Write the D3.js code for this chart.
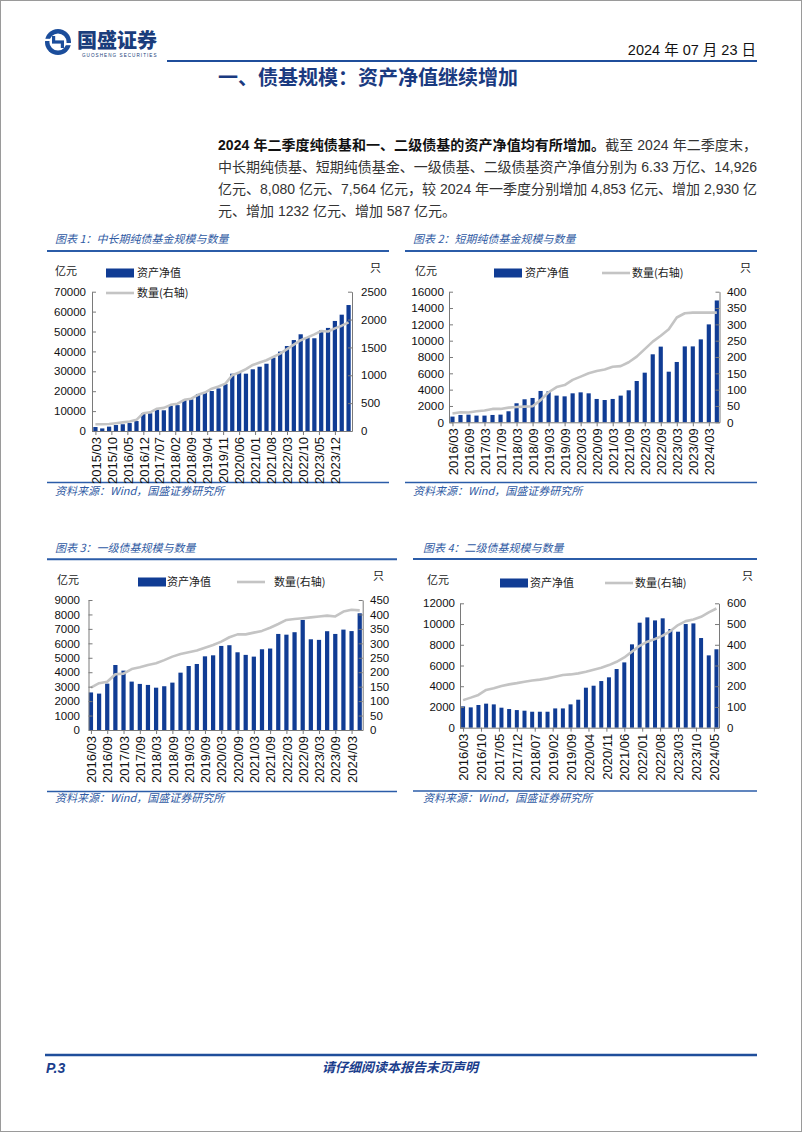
<!DOCTYPE html>
<html><head><meta charset="utf-8">
<script src="https://cdn.jsdelivr.net/npm/d3@7"></script>
<style>body{margin:0;background:#fff;} svg{display:block;}</style>
</head><body><svg id="page" width="802" height="1132"></svg>
<script>
// ---------- DATA ----------
const quarters1 = ["2015/03","2015/06","2015/09","2015/12","2016/03","2016/06","2016/09","2016/12","2017/03","2017/06","2017/09","2017/12","2018/03","2018/06","2018/09","2018/12","2019/03","2019/06","2019/09","2019/12","2020/03","2020/06","2020/09","2020/12","2021/03","2021/06","2021/09","2021/12","2022/03","2022/06","2022/09","2022/12","2023/03","2023/06","2023/09","2023/12","2024/03","2024/06"];
const quarters2 = ["2016/03","2016/06","2016/09","2016/12","2017/03","2017/06","2017/09","2017/12","2018/03","2018/06","2018/09","2018/12","2019/03","2019/06","2019/09","2019/12","2020/03","2020/06","2020/09","2020/12","2021/03","2021/06","2021/09","2021/12","2022/03","2022/06","2022/09","2022/12","2023/03","2023/06","2023/09","2023/12","2024/03","2024/06"];

// 图表1 中长期纯债基金
const c1Nav   = [2000,1300,2200,3000,3400,4000,5000,9000,8900,10700,10400,12700,13000,15600,15900,18600,19300,20100,21400,23600,28800,29300,28800,31000,32300,33800,36900,39900,42700,45700,48600,47100,46600,50600,51800,55300,58450,63300];
const c1Count = [120,122,125,140,155,170,200,320,335,400,415,470,490,560,580,650,690,760,800,850,1000,1050,1110,1185,1230,1270,1330,1390,1470,1550,1630,1680,1735,1795,1785,1842,1890,1950];
// 图表2 短期纯债基金
const c2Nav   = [700,900,940,820,820,900,940,1350,2330,2820,2980,3840,3800,3270,3180,3550,3670,3550,2860,2730,2860,3270,3920,5060,6080,8330,9270,6200,7390,9300,9300,10160,11996,14926];
const c2Count = [27,31,30,34,36,41,41,45,47,48,49,68,92,108,114,130,140,150,157,162,170,172,184,201,224,247,265,285,321,334,336,336,336,336];
// 图表3 一级债基
const c3Nav   = [2600,2520,3210,4500,4110,3350,3190,3120,2930,3030,3280,3970,4430,4570,5100,5170,5820,5870,5380,5200,5080,5590,5640,6650,6600,6770,7620,6280,6240,6840,6650,6950,6848,8080];
const c3Count = [147,162,167,193,195,211,217,225,231,242,254,263,269,275,285,294,306,321,331,331,337,343,354,367,381,384,387,390,393,396,393,410,416,414];
// 图表4 二级债基
const c4Nav   = [2060,1960,2190,2320,2250,1930,1800,1700,1640,1540,1540,1540,1860,1860,2250,2700,3860,4050,4500,4860,5660,6300,8040,10130,10640,10350,10550,9520,9260,10000,10060,8650,6977,7564];
const c4Count = [133,145,158,182,190,201,209,215,222,228,232,238,246,254,257,262,270,280,289,302,318,339,367,395,415,428,444,466,495,514,522,535,556,575];

// tick labels
const c1XTicks = ["2015/03","2015/10","2016/05","2016/12","2017/07","2018/02","2018/09","2019/04","2019/11","2020/06","2021/01","2021/08","2022/03","2022/10","2023/05","2023/12"];
const c2XTicks = ["2016/03","2016/09","2017/03","2017/09","2018/03","2018/09","2019/03","2019/09","2020/03","2020/09","2021/03","2021/09","2022/03","2022/09","2023/03","2023/09","2024/03"];
const c3XTicks = ["2016/03","2016/09","2017/03","2017/09","2018/03","2018/09","2019/03","2019/09","2020/03","2020/09","2021/03","2021/09","2022/03","2022/09","2023/03","2023/09","2024/03"];
const c4XTicks = ["2016/03","2016/10","2017/05","2017/12","2018/07","2019/02","2019/09","2020/04","2020/11","2021/06","2022/01","2022/08","2023/03","2023/10","2024/05"];
const c1LTicks = [0,10000,20000,30000,40000,50000,60000,70000];
const c1RTicks = [0,500,1000,1500,2000,2500];
const c2LTicks = [0,2000,4000,6000,8000,10000,12000,14000,16000];
const c2RTicks = [0,50,100,150,200,250,300,350,400];
const c3LTicks = [0,1000,2000,3000,4000,5000,6000,7000,8000,9000];
const c3RTicks = [0,50,100,150,200,250,300,350,400,450];
const c4LTicks = [0,2000,4000,6000,8000,10000,12000];
const c4RTicks = [0,100,200,300,400,500,600];

const chartTitles = ["图表 1：中长期纯债基金规模与数量","图表 2：短期纯债基金规模与数量","图表 3：一级债基规模与数量","图表 4：二级债基规模与数量"];
const legendNames = ["资产净值","数量(右轴)"];
const sourceText = "资料来源：Wind，国盛证券研究所";

// ---------- STYLE ----------
const FONT = '"Liberation Sans","Noto Sans CJK SC",sans-serif';
const CJK = '"Noto Sans CJK SC","Liberation Sans",sans-serif';
const BAR = '#103c94';
const LINE = '#c4c4c4';
const RULE = '#2b5ca8';
const TITLEBLUE = '#2f5aa3';
const AXIS = '#7a7a7a';

const svg = d3.select('#page');
svg.append('rect').attr('x',0.5).attr('y',0.5).attr('width',801).attr('height',1131)
  .attr('fill','#fff').attr('stroke','#9a9a9a');

// ---------- HEADER ----------
const lg = svg.append('g').attr('transform','translate(58,42)');
lg.append('circle').attr('r',13).attr('fill','#1b4d9b');
lg.append('circle').attr('r',8.6).attr('fill','#fff');
lg.append('rect').attr('x',-6).attr('y',-1.6).attr('width',12).attr('height',3.2).attr('fill','#1b4d9b');
lg.append('rect').attr('x',-6).attr('y',-6).attr('width',3.2).attr('height',6).attr('fill','#1b4d9b');
lg.append('rect').attr('x',2.8).attr('y',0).attr('width',3.2).attr('height',6).attr('fill','#1b4d9b');
lg.append('rect').attr('x',-13.5).attr('y',-3.2).attr('width',5.5).attr('height',2.2).attr('fill','#fff');
lg.append('rect').attr('x',8).attr('y',1).attr('width',5.5).attr('height',2.2).attr('fill','#fff');
svg.append('text').attr('x',77).attr('y',48).attr('font-family',CJK).attr('font-size',20)
  .attr('font-weight',900).attr('fill','#1a3d7c').text('国盛证券');
svg.append('text').attr('x',82).attr('y',56.5).attr('font-family',FONT).attr('font-size',4.6)
  .attr('letter-spacing',1.05).attr('fill','#1a3d7c').text('GUOSHENG SECURITIES');
svg.append('text').attr('x',756).attr('y',55).attr('text-anchor','end').attr('font-family',FONT)
  .attr('font-size',14.5).attr('fill','#111').text('2024 年 07 月 23 日');
svg.append('line').attr('x1',167).attr('x2',757).attr('y1',61).attr('y2',61)
  .attr('stroke','#1f4e9b').attr('stroke-width',2);
svg.append('text').attr('x',218).attr('y',85).attr('font-family',CJK).attr('font-size',20)
  .attr('font-weight',700).attr('fill','#1a3a80').text('一、债基规模：资产净值继续增加');

// ---------- PARAGRAPH ----------
const paraLines = [
  [{t:'2024 年二季度纯债基和一、二级债基的资产净值均有所增加。',b:true},{t:'截至 2024 年二季度末，',b:false}],
  [{t:'中长期纯债基、短期纯债基金、一级债基、二级债基资产净值分别为 6.33 万亿、14,926',b:false}],
  [{t:'亿元、8,080 亿元、7,564 亿元，较 2024 年一季度分别增加 4,853 亿元、增加 2,930 亿',b:false}],
  [{t:'元、增加 1232 亿元、增加 587 亿元。',b:false}]
];
const paraY = [150, 172, 194, 215.5];
paraLines.forEach((ln, i) => {
  const t = svg.append('text').attr('x',218).attr('y',paraY[i]).attr('font-family',FONT)
    .attr('font-size',14).attr('fill','#333');
  ln.forEach(s => t.append('tspan').attr('font-weight', s.b ? 700 : 400)
    .attr('fill', s.b ? '#111' : '#333').text(s.t));
  if (i < 3) {
    const len = t.node().getComputedTextLength();
    const n = ln.map(s=>s.t).join('').length;
    t.attr('letter-spacing', (539 - len) / (n - 1));
  }
});

// ---------- CHARTS ----------
function monthIndex(s, start) {
  const [y, m] = s.split('/').map(Number);
  const [y0, m0] = start.split('/').map(Number);
  return (y - y0) * 12 + (m - m0);
}

const charts = [
  {dates:quarters1, nav:c1Nav, count:c1Count, xt:c1XTicks, lt:c1LTicks, rt:c1RTicks,
   xDomain:[-1.5,112.5], xRange:[92,352], y0:431, y1:291.7, lMax:70000, rMax:2500,
   lLab:86, rLab:361, barFrac:0.62, ySize:11.5,
   legend:{two:true, barX:106, textX:137, y:273, y2:293},
   unitL:[55,275], unitR:[370,272], title:[55,243], rule:[47,389,251], src:[47,389,482.5], srcT:[55,494.5]},
  {dates:quarters2, nav:c2Nav, count:c2Count, xt:c2XTicks, lt:c2LTicks, rt:c2RTicks,
   xDomain:[-1.3,100], xRange:[449,719.5], y0:422.3, y1:291.7, lMax:16000, rMax:400,
   lLab:444, rLab:727, barFrac:0.52, ySize:11.8,
   legend:{two:false, barX:494, textX:525, lineX:602, textX2:632, y:273},
   unitL:[415,275], unitR:[740,272], title:[413,243], rule:[405,757,251], src:[405,757,482.5], srcT:[413,494.5]},
  {dates:quarters2, nav:c3Nav, count:c3Count, xt:c3XTicks, lt:c3LTicks, rt:c3RTicks,
   xDomain:[-0.9,100.1], xRange:[88.5,362.7], y0:730, y1:600, lMax:9000, rMax:450,
   lLab:80, rLab:370, barFrac:0.52, ySize:11.5,
   legend:{two:false, barX:138, textX:167, lineX:237, textX2:274, y:582},
   unitL:[57,584], unitR:[373,580], title:[55,551.5], rule:[47,397,559.3], src:[47,397,791.5], srcT:[55,801.5]},
  {dates:quarters2, nav:c4Nav, count:c4Count, xt:c4XTicks, lt:c4LTicks, rt:c4RTicks,
   xDomain:[-1.2,100], xRange:[460,719], y0:727.7, y1:603.3, lMax:12000, rMax:600,
   lLab:455, rLab:727, barFrac:0.52, ySize:11.5,
   legend:{two:false, barX:500, textX:530, lineX:605, textX2:635, y:583},
   unitL:[427,584], unitR:[742,580], title:[423,551.5], rule:[413,757,559], src:[413,757,791], srcT:[423,801.5]}
];

charts.forEach((c, ci) => {
  const g = svg.append('g');
  const start = c.dates[0];
  const mi = s => monthIndex(s, start);
  const x = d3.scaleLinear().domain(c.xDomain).range(c.xRange);
  const yL = d3.scaleLinear().domain([0, c.lMax]).range([c.y0, c.y1]);
  const yR = d3.scaleLinear().domain([0, c.rMax]).range([c.y0, c.y1]);

  // title + rules
  g.append('text').attr('x',c.title[0]).attr('y',c.title[1]).attr('font-family',CJK)
    .attr('font-size',11).attr('font-style','italic').attr('fill',TITLEBLUE).text(chartTitles[ci]);
  g.append('line').attr('x1',c.rule[0]).attr('x2',c.rule[1]).attr('y1',c.rule[2]).attr('y2',c.rule[2])
    .attr('stroke',RULE).attr('stroke-width',2);
  g.append('line').attr('x1',c.src[0]).attr('x2',c.src[1]).attr('y1',c.src[2]).attr('y2',c.src[2])
    .attr('stroke',RULE).attr('stroke-width',1.5);
  g.append('text').attr('x',c.srcT[0]).attr('y',c.srcT[1]).attr('font-family',CJK)
    .attr('font-size',11).attr('font-style','italic').attr('fill',TITLEBLUE).text(sourceText);

  // units
  g.append('text').attr('x',c.unitL[0]).attr('y',c.unitL[1]).attr('font-family',CJK)
    .attr('font-size',11).attr('fill','#222').text('亿元');
  g.append('text').attr('x',c.unitR[0]).attr('y',c.unitR[1]).attr('font-family',CJK)
    .attr('font-size',11).attr('fill','#222').text('只');

  // bars
  const bw = c.barFrac * (x(3) - x(0));
  g.selectAll('rect.bar').data(c.nav).join('rect').attr('class','bar')
    .attr('x', (d,i) => x(mi(c.dates[i])) - bw/2)
    .attr('y', d => yL(d))
    .attr('width', bw)
    .attr('height', d => yL(0) - yL(d))
    .attr('fill', BAR);

  // line
  const line = d3.line().x((d,i) => x(mi(c.dates[i]))).y(d => yR(d));
  g.append('path').attr('d', line(c.count)).attr('fill','none')
    .attr('stroke',LINE).attr('stroke-width',2.6).attr('stroke-linejoin','round');

  // axes
  const axL = g.append('g').attr('transform',`translate(${c.xRange[0]},0)`)
    .call(d3.axisLeft(yL).tickValues(c.lt).tickFormat(d3.format('d'))
      .tickSizeInner(-4).tickSizeOuter(0).tickPadding(c.xRange[0]-c.lLab));
  const axR = g.append('g').attr('transform',`translate(${c.xRange[1]},0)`)
    .call(d3.axisRight(yR).tickValues(c.rt).tickFormat(d3.format('d'))
      .tickSizeInner(-4).tickSizeOuter(0).tickPadding(c.rLab-c.xRange[1]));
  const axB = g.append('g').attr('transform',`translate(0,${c.y0})`)
    .call(d3.axisBottom(x).tickValues(c.xt.map(mi)).tickFormat((d,i)=>c.xt[i])
      .tickSizeInner(4).tickSizeOuter(0));
  axB.selectAll('text').attr('transform','rotate(-90)').attr('text-anchor','end')
    .attr('x',-6).attr('y',0).attr('dy','0.36em').attr('font-size',13);
  [axL, axR].forEach(a => a.selectAll('text').attr('font-size', c.ySize));
  [axL, axR, axB].forEach(a => {
    a.attr('font-family', FONT);
    a.selectAll('text').attr('fill','#111');
    a.selectAll('path.domain, line').attr('stroke', AXIS);
  });

  // legend
  const L = c.legend;
  g.append('rect').attr('x',L.barX).attr('y',L.y-4.5).attr('width',28).attr('height',9).attr('fill',BAR);
  g.append('text').attr('x',L.textX).attr('y',L.y+4).attr('font-family',CJK).attr('font-size',11)
    .attr('fill','#222').text(legendNames[0]);
  if (L.two) {
    g.append('line').attr('x1',L.barX).attr('x2',L.barX+28).attr('y1',L.y2).attr('y2',L.y2)
      .attr('stroke',LINE).attr('stroke-width',2.6);
    g.append('text').attr('x',L.textX).attr('y',L.y2+4).attr('font-family',CJK).attr('font-size',11)
      .attr('fill','#222').text(legendNames[1]);
  } else {
    g.append('line').attr('x1',L.lineX).attr('x2',L.lineX+28).attr('y1',L.y).attr('y2',L.y)
      .attr('stroke',LINE).attr('stroke-width',2.6);
    g.append('text').attr('x',L.textX2).attr('y',L.y+4).attr('font-family',CJK).attr('font-size',11)
      .attr('fill','#222').text(legendNames[1]);
  }
});

// ---------- FOOTER ----------
svg.append('line').attr('x1',45).attr('x2',757).attr('y1',1055).attr('y2',1055)
  .attr('stroke','#1f4e9b').attr('stroke-width',2.5);
svg.append('text').attr('x',46).attr('y',1073).attr('font-family',FONT).attr('font-size',14)
  .attr('font-weight',700).attr('font-style','italic').attr('fill','#1a3d8c').text('P.3');
svg.append('text').attr('x',400).attr('y',1072).attr('text-anchor','middle').attr('font-family',CJK)
  .attr('font-size',13).attr('font-weight',700).attr('font-style','italic').attr('fill','#1a3d8c')
  .text('请仔细阅读本报告末页声明');
</script></body></html>
